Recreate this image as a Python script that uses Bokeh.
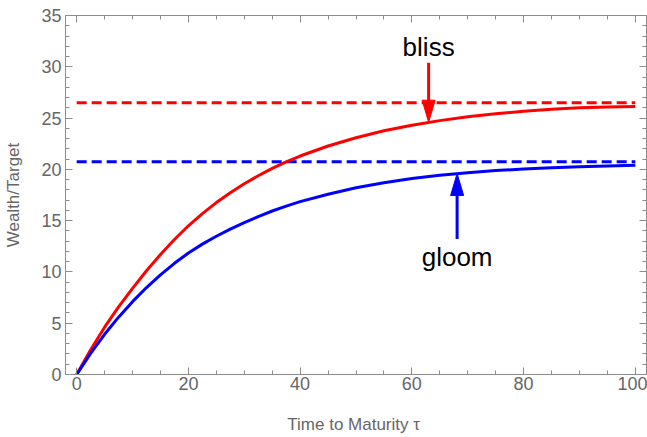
from bokeh.plotting import figure
from bokeh.models import Range1d, LinearAxis, SingleIntervalTicker
from bokeh.embed import file_html
from bokeh.resources import INLINE
from bokeh.core.properties import value

# ---- data ----
tau = [0, 2.5, 5, 7.5, 10, 12.5, 15, 17.5, 20, 22.5, 25, 27.5, 30, 32.5, 35, 37.5, 40,
       45, 50, 55, 60, 65, 70, 75, 80, 85, 90, 95, 100]
bliss_wealth = [0, 2.42, 4.61, 6.59, 8.39, 10.12, 11.70, 13.16, 14.5, 15.69, 16.76, 17.72,
                18.6, 19.38, 20.09, 20.73, 21.3, 22.28, 23.08, 23.76, 24.3, 24.75, 25.12,
                25.42, 25.66, 25.85, 26.0, 26.08, 26.14]
gloom_wealth = [0, 2.06, 3.92, 5.59, 7.1, 8.48, 9.72, 10.84, 11.85, 12.71, 13.48, 14.18,
                14.8, 15.4, 15.94, 16.42, 16.85, 17.58, 18.2, 18.7, 19.1, 19.42, 19.68,
                19.88, 20.03, 20.15, 20.25, 20.33, 20.4]
limit_x = [0, 100]
bliss_limit = 26.5
gloom_limit = 20.75

annot_text = ["bliss", "gloom"]
annot_colors = ["#ff0000", "#0000ff"]
annot_x = [63.0, 68.1]
annot_text_y = [31.95, 11.5]
arrow_tail_y = [30.4, 13.2]
arrow_tip_y = [24.6, 19.6]

X_MIN, X_MAX = -2, 102
Y_MIN, Y_MAX = 0, 35

FRAME_W, FRAME_H = 581, 359
TXT = "#666666"
LINE = "#8c8c8c"
FONT = "Liberation Sans"

p = figure(frame_width=FRAME_W, frame_height=FRAME_H,
           x_range=Range1d(X_MIN, X_MAX), y_range=Range1d(Y_MIN, Y_MAX),
           output_backend="svg", toolbar_location=None,
           x_axis_location=None, y_axis_location=None,
           min_border_left=65, min_border_right=1, min_border_top=15, min_border_bottom=62)
p.grid.visible = False
p.outline_line_color = None
p.background_fill_color = "white"
p.border_fill_color = "white"


def make_axis(interval, minor, show_labels, label=None):
    ax = LinearAxis(ticker=SingleIntervalTicker(interval=interval, num_minor_ticks=minor))
    ax.axis_line_color = LINE
    ax.axis_line_width = 1
    ax.major_tick_line_color = LINE
    ax.minor_tick_line_color = LINE
    ax.major_tick_in = 7
    ax.major_tick_out = 0
    ax.minor_tick_in = 4
    ax.minor_tick_out = 0
    if show_labels:
        ax.major_label_text_font = FONT
        ax.major_label_text_font_size = "18px"
        ax.major_label_text_color = TXT
        ax.major_label_standoff = 4
    else:
        ax.major_label_text_font_size = "0px"
        ax.major_label_standoff = 0
        ax.major_label_text_color = None
        ax.axis_label_standoff = 0
    if label:
        ax.axis_label = label
        ax.axis_label_text_font = FONT
        ax.axis_label_text_font_size = "17px"
        ax.axis_label_text_font_style = "normal"
        ax.axis_label_text_color = TXT
    return ax


xb = make_axis(20, 4, True, "Time to Maturity  τ")
xb.major_label_standoff = 2
xb.axis_label_standoff = 22
yl = make_axis(5, 5, True, "Wealth/Target")
yl.axis_label_standoff = 15
xa = make_axis(20, 4, False)
yr = make_axis(5, 5, False)
p.add_layout(xb, "below")
p.add_layout(yl, "left")
p.add_layout(xa, "above")
p.add_layout(yr, "right")

# limits (dashed)
p.line(limit_x, [bliss_limit] * 2, line_color="#ff0000", line_width=3, line_dash="10 5")
p.line(limit_x, [gloom_limit] * 2, line_color="#0000ff", line_width=3, line_dash="10 5")

# curves
p.line(tau, bliss_wealth, line_color="#ff0000", line_width=3)
p.line(tau, gloom_wealth, line_color="#0000ff", line_width=3)

# arrows
px_per_x = FRAME_W / (X_MAX - X_MIN)
px_per_y = FRAME_H / (Y_MAX - Y_MIN)
head_len = 22 / px_per_y
head_half = 6.5 / px_per_x
for x, ty, hy, c in zip(annot_x, arrow_tail_y, arrow_tip_y, annot_colors):
    s = 1 if hy > ty else -1
    base = hy - s * head_len
    p.segment(x0=[x], y0=[ty], x1=[x], y1=[base + s * 0.2], line_color=c, line_width=3)
    p.patch([x - head_half, x, x + head_half], [base, hy, base], fill_color=c, line_color=c,
            line_width=1)

p.text(x=annot_x, y=annot_text_y, text=annot_text, text_font=value(FONT),
       text_font_size="26px", text_align="center", text_baseline="alphabetic",
       text_color="black")

open("out.html", "w").write(file_html(p, INLINE))
